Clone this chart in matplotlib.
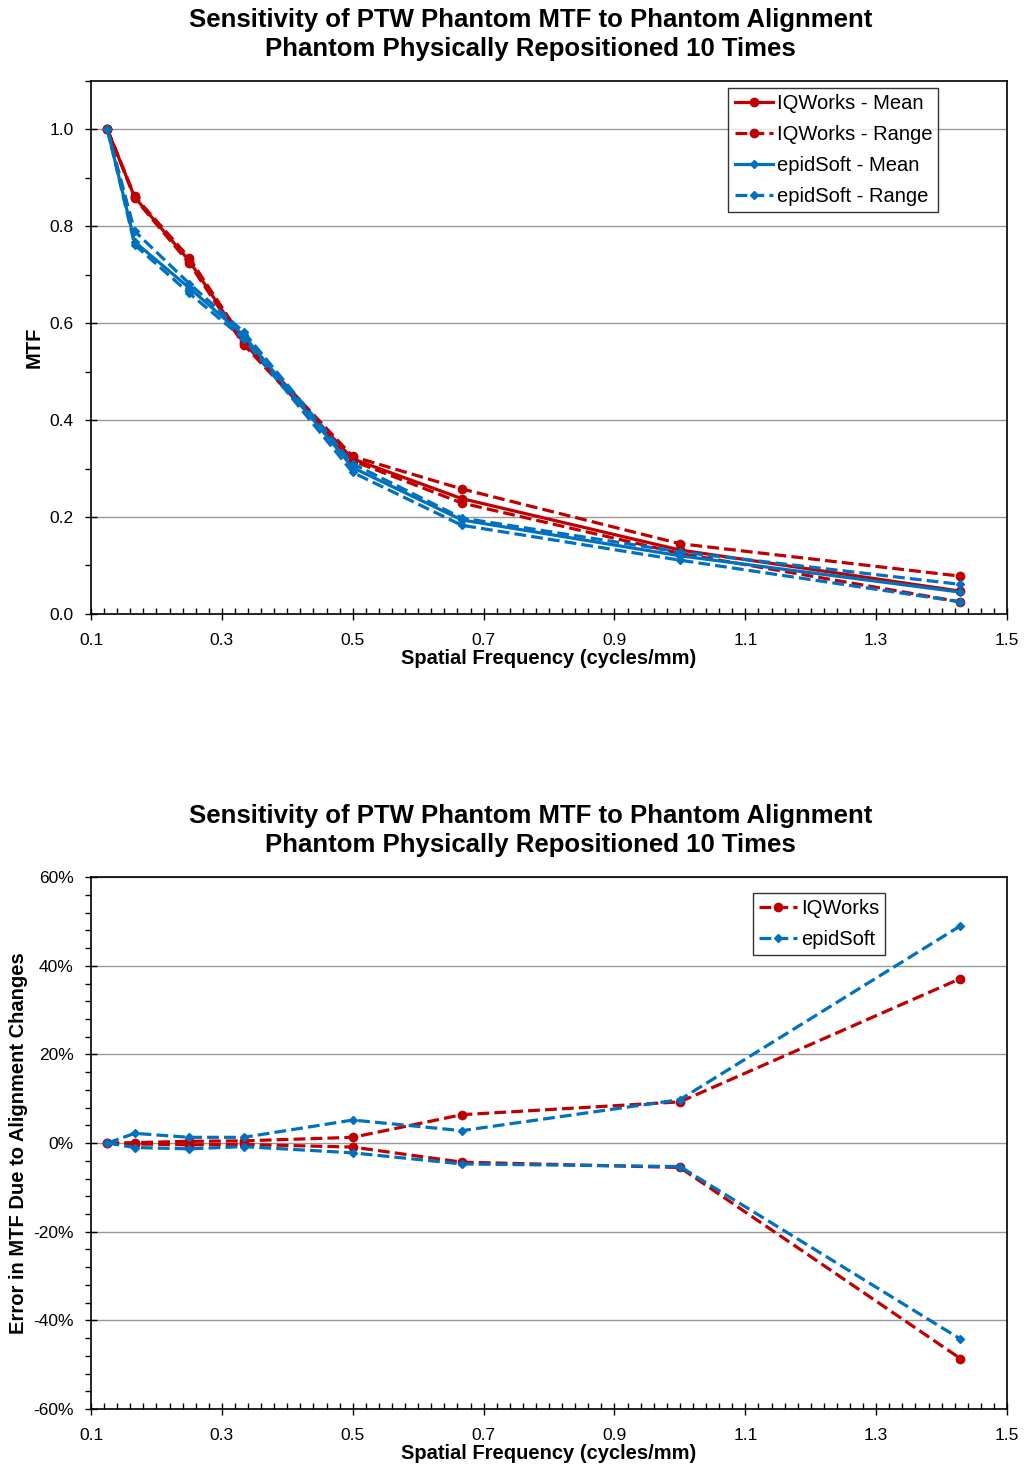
import matplotlib.pyplot as plt
from matplotlib.ticker import MultipleLocator, FixedLocator, FuncFormatter

plt.rcParams['font.family'] = ['Liberation Sans', 'DejaVu Sans']

# spatial frequency (cycles/mm)
freq = [0.125, 0.1667, 0.25, 0.3333, 0.5, 0.6667, 1.0, 1.4286]
xticks = [0.1, 0.3, 0.5, 0.7, 0.9, 1.1, 1.3, 1.5]

# top panel: MTF
iq_mean = [1.0, 0.86, 0.729, 0.56, 0.32, 0.238, 0.132, 0.047]
iq_hi = [1.0, 0.862, 0.735, 0.565, 0.325, 0.258, 0.145, 0.078]
iq_lo = [1.0, 0.858, 0.724, 0.556, 0.316, 0.229, 0.125, 0.025]
ep_mean = [1.0, 0.768, 0.673, 0.575, 0.302, 0.194, 0.12, 0.045]
ep_hi = [1.0, 0.79, 0.682, 0.582, 0.31, 0.198, 0.128, 0.061]
ep_lo = [1.0, 0.762, 0.662, 0.568, 0.292, 0.183, 0.111, 0.025]

# bottom panel: error (%)
iq_err_hi = [0, 0.1, 0.4, 0.5, 1.3, 6.4, 9.3, 37.1]
iq_err_lo = [0, -0.2, -0.4, -0.3, -0.9, -4.3, -5.5, -48.6]
ep_err_hi = [0, 2.2, 1.3, 1.3, 5.2, 2.8, 9.8, 49.0]
ep_err_lo = [0, -1.0, -1.3, -0.8, -2.2, -4.7, -5.3, -44.2]

red = '#C00000'
blue = '#0070C0'
title = 'Sensitivity of PTW Phantom MTF to Phantom Alignment\nPhantom Physically Repositioned 10 Times'

fig = plt.figure(figsize=(10.25, 14.67), dpi=100)
ax1 = fig.add_axes([0.0888, 0.5815, 0.8937, 0.3633])
ax2 = fig.add_axes([0.0888, 0.0395, 0.8937, 0.3626])

lw = 2.3
ax1.plot(freq, iq_mean, color=red, lw=lw, marker='o', ms=6, label='IQWorks - Mean')
ax1.plot(freq, iq_hi, color=red, lw=lw, ls='--', marker='o', ms=6, label='IQWorks - Range')
ax1.plot(freq, iq_lo, color=red, lw=lw, ls='--', marker='o', ms=6)
ax1.plot(freq, ep_mean, color=blue, lw=lw, marker='D', ms=4.5, label='epidSoft - Mean')
ax1.plot(freq, ep_hi, color=blue, lw=lw, ls='--', marker='D', ms=4.5, label='epidSoft - Range')
ax1.plot(freq, ep_lo, color=blue, lw=lw, ls='--', marker='D', ms=4.5)

ax1.set_ylim(0, 1.1)
ax1.yaxis.set_major_locator(FixedLocator([0, 0.2, 0.4, 0.6, 0.8, 1.0]))
ax1.yaxis.set_minor_locator(MultipleLocator(0.1))
ax1.yaxis.set_major_formatter(FuncFormatter(lambda v, p: f'{v:.1f}'))
ax1.set_ylabel('MTF', fontsize=14.5, fontweight='bold', labelpad=4)

ax2.plot(freq, iq_err_hi, color=red, lw=lw, ls='--', marker='o', ms=6, label='IQWorks')
ax2.plot(freq, iq_err_lo, color=red, lw=lw, ls='--', marker='o', ms=6)
ax2.plot(freq, ep_err_hi, color=blue, lw=lw, ls='--', marker='D', ms=4.5, label='epidSoft')
ax2.plot(freq, ep_err_lo, color=blue, lw=lw, ls='--', marker='D', ms=4.5)

ax2.set_ylim(-60, 60)
ax2.yaxis.set_major_locator(MultipleLocator(20))
ax2.yaxis.set_minor_locator(MultipleLocator(4))
ax2.yaxis.set_major_formatter(FuncFormatter(lambda v, p: f'{v:.0f}%'))
ax2.set_ylabel('Error in MTF Due to Alignment Changes', fontsize=14.5, fontweight='bold', labelpad=4)

for ax in (ax1, ax2):
    ax.set_xlim(0.1, 1.5)
    ax.xaxis.set_major_locator(FixedLocator(xticks))
    ax.xaxis.set_minor_locator(MultipleLocator(0.02))
    ax.xaxis.set_major_formatter(FuncFormatter(lambda v, p: f'{v:.1f}'))
    ax.tick_params(which='major', direction='inout', length=9, width=1, labelsize=12.5)
    ax.tick_params(axis='x', which='major', pad=9)
    ax.tick_params(axis='y', which='major', pad=8)
    ax.tick_params(axis='x', which='minor', direction='in', length=4, width=1)
    ax.tick_params(axis='y', which='minor', direction='out', length=4, width=1)
    ax.grid(True, axis='y', which='major', color='#999999', lw=1)
    ax.set_axisbelow(True)
    ax.set_xlabel('Spatial Frequency (cycles/mm)', fontsize=14.5, fontweight='bold', labelpad=1)
    ax.set_title(title, fontsize=18.5, fontweight='bold', pad=18, x=0.48, linespacing=1.25)
    for s in ax.spines.values():
        s.set_linewidth(1.2)

leg1 = ax1.legend(loc='upper right', bbox_to_anchor=(0.925, 0.987), fontsize=14.5, frameon=True,
                  fancybox=False, edgecolor='black', handlelength=1.9, handletextpad=0.2,
                  borderpad=0.3, labelspacing=0.6, borderaxespad=0)
leg1.get_frame().set_linewidth(1)
leg2 = ax2.legend(loc='upper right', bbox_to_anchor=(0.867, 0.97), fontsize=14.5, frameon=True,
                  fancybox=False, edgecolor='black', handlelength=1.9, handletextpad=0.2,
                  borderpad=0.3, labelspacing=0.6, borderaxespad=0)
leg2.get_frame().set_linewidth(1)

fig.savefig('out.png', dpi=100)
